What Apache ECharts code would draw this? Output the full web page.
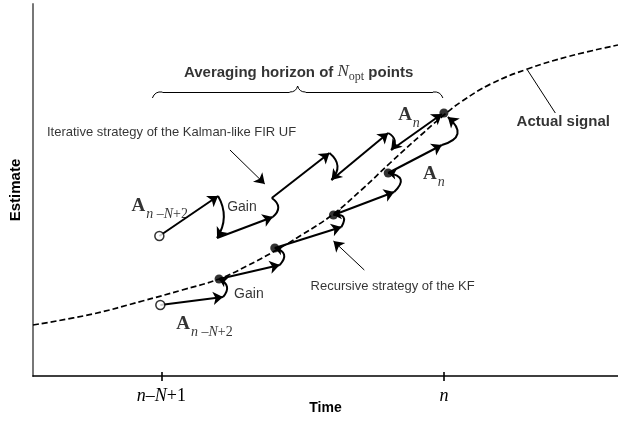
<!DOCTYPE html>
<html>
<head>
<meta charset="utf-8">
<script src="https://cdn.jsdelivr.net/npm/echarts@6/dist/echarts.min.js"></script>
<style>html,body{margin:0;padding:0;background:#fff;}#c{width:618px;height:430px;}</style>
</head>
<body>
<div id="c"></div>
<script>
// ---- data (Time / Estimate units of the schematic) ----
const tickValues = [129, 413];
const tickLabels = ['n–N+1', 'n'];

// actual signal (dashed)
const signalT = [0, 60, 110, 150, 187, 215, 243, 270, 302, 330, 360, 390, 413, 430, 460, 497, 540, 588];
const signalY = [51, 62, 75, 86, 97, 110, 125, 141, 162, 186, 214, 241, 261, 274, 292, 307, 320, 331];

// iterative strategy of the Kalman-like FIR UF (path vertices)
const firT = [127, 186, 185, 241, 240, 298, 300, 357, 360, 411];
const firY = [140, 180, 138, 159, 178, 223, 196, 243, 226, 262];

// recursive strategy of the KF (path vertices)
const kfT = [128, 191, 187, 248, 243, 310, 302, 363, 357, 411, 417];
const kfY = [71, 79, 97, 111, 128, 149, 161, 184, 203, 231, 259];

// KF estimates (filled dots) and initial values (open dots)
const estT = [187, 243, 302, 357, 413];
const estY = [97, 128, 161, 203, 263];
const initT = [127, 128];
const initY = [140, 71];

// brace over the averaging horizon
const braceT = [120, 130, 258, 266, 274, 402, 412];
const braceY = [278, 284, 284, 290, 284, 284, 278];

// pointer lines
const ptrFromT = [198, 333], ptrFromY = [226, 106];
const ptrToT = [233, 302], ptrToY = [192, 135];
const sigPtrT = [497, 525], sigPtrY = [306, 263];

// text annotations
const noteText = ['avg', 'iter', 'Gain', 'Gain', 'rec', 'A1', 'A2', 'An1', 'An2', 'Actual signal'];
const noteT = [267, 14, 210, 217, 279, 99, 144, 367, 392, 533];
const noteY = [303, 244, 169, 82, 90, 167, 49, 258, 199, 254];

// ---- styling ----
const SANS = 'Liberation Sans, Arial, sans-serif';
const SERIF = 'Liberation Serif, Times New Roman, serif';
const firBend = [0, 0.3, 0, -0.63, 0, 0.52, 0, 0.6, 0];
const kfBend = [0, -0.66, 0, -0.8, 0, -1.0, 0, -1.0, 0, -0.9];
const braceBend = [0.4, 0, -0.4, -0.4, 0, 0.4];

function segs(T, Y, bends, pick) {
  const out = [];
  for (let i = 0; i < T.length - 1; i++) {
    if (pick(bends[i], i)) {
      out.push({coords: [[T[i], Y[i]], [T[i + 1], Y[i + 1]]], lineStyle: {curveness: bends[i]}});
    }
  }
  return out;
}

const straightArrows = segs(firT, firY, firBend, b => b === 0).concat(segs(kfT, kfY, kfBend, b => b === 0));
const gainArrows = segs(firT, firY, firBend, b => b > 0).concat(segs(kfT, kfY, kfBend, (b, i) => i === kfT.length - 2));
const kfHooks = segs(kfT, kfY, kfBend, (b, i) => b !== 0 && i !== kfT.length - 2);
const firHooks = segs(firT, firY, firBend, b => b < 0);
const braceSegs = segs(braceT, braceY, braceBend, () => true);

const serifRich = {
  A: {fontFamily: SERIF, fontWeight: 'bold', fontSize: 19, color: '#000', verticalAlign: 'bottom', padding: [0, 1, 5, 0]},
  si: {fontFamily: SERIF, fontStyle: 'italic', fontSize: 14, color: '#000', verticalAlign: 'bottom'},
  sr: {fontFamily: SERIF, fontSize: 14, color: '#000', verticalAlign: 'bottom'},
  b: {fontFamily: SANS, fontWeight: 'bold', fontSize: 15, color: '#000', verticalAlign: 'bottom', padding: [0, 0, 3, 0]},
  N: {fontFamily: SERIF, fontStyle: 'italic', fontSize: 17, color: '#000', verticalAlign: 'bottom', padding: [0, 0, 3, 0]},
  o: {fontFamily: SERIF, fontSize: 12, color: '#000', verticalAlign: 'bottom'}
};
const noteFmt = {
  'avg': {t: '{b|Averaging horizon of }{N|N}{o|opt}{b| points}', align: 'center'},
  'iter': {t: 'Iterative strategy of the Kalman-like FIR UF', align: 'left', size: 13},
  'Gain': {t: 'Gain', align: 'center', size: 14},
  'rec': {t: 'Recursive strategy of the KF', align: 'left', size: 13},
  'A1': {t: '{A|A}{si|n}{sr| –}{si|N}{sr|+2}', align: 'left'},
  'A2': {t: '{A|A}{si|n}{sr| –}{si|N}{sr|+2}', align: 'left'},
  'An1': {t: '{A|A}{si|n}', align: 'left'},
  'An2': {t: '{A|A}{si|n}', align: 'left'},
  'Actual signal': {t: 'Actual signal', align: 'center', size: 15, bold: true}
};
const notes = noteText.map((k, i) => {
  const f = noteFmt[k];
  return {
    value: [noteT[i], noteY[i]],
    label: {
      show: true, position: [0, 0], formatter: f.t, align: f.align, verticalAlign: 'middle',
      fontFamily: SANS, fontSize: f.size || 14, fontWeight: f.bold ? 'bold' : 'normal', color: '#000',
      rich: serifRich
    }
  };
});

const chart = echarts.init(document.getElementById('c'), null, {renderer: 'canvas'});
chart.setOption({
  animation: false,
  backgroundColor: '#fff',
  grid: {left: 30, right: 0, top: 4, bottom: 54},
  xAxis: [{
    type: 'value', min: 0, max: 588,
    name: 'Time', nameLocation: 'middle', nameGap: 25, nameMoveOverlap: false,
    nameTextStyle: {fontFamily: SANS, fontWeight: 'bold', fontSize: 14, color: '#000'},
    axisLine: {show: true, onZero: false, lineStyle: {color: '#000', width: 1.6}},
    axisTick: {show: true, customValues: tickValues, length: 5, lineStyle: {color: '#000', width: 1.6}},
    axisLabel: {
      show: true, customValues: tickValues, margin: 11,
      formatter: v => v === tickValues[0] ? '{i|n}{r|–}{i|N}{r|+1}' : '{i|n}',
      rich: {
        i: {fontFamily: SERIF, fontStyle: 'italic', fontSize: 18, color: '#000'},
        r: {fontFamily: SERIF, fontSize: 18, color: '#000'}
      }
    },
    splitLine: {show: false}
  }, {
    type: 'value', min: 0, max: 588, position: 'bottom', offset: 0,
    axisLine: {show: false},
    axisTick: {show: true, inside: true, customValues: tickValues, length: 4, lineStyle: {color: '#000', width: 1.6}},
    axisLabel: {show: false}, splitLine: {show: false}
  }],
  yAxis: {
    type: 'value', min: 0, max: 372,
    name: 'Estimate', nameLocation: 'middle', nameGap: 10, nameRotate: 90, nameMoveOverlap: false,
    nameTextStyle: {fontFamily: SANS, fontWeight: 'bold', fontSize: 15, color: '#000'},
    axisLine: {show: true, onZero: false, lineStyle: {color: '#777', width: 2}},
    axisTick: {show: false}, axisLabel: {show: false}, splitLine: {show: false}
  },
  series: [
    {
      type: 'line', data: signalT.map((t, i) => [t, signalY[i]]), smooth: 0.4, showSymbol: false,
      lineStyle: {color: '#000', width: 1.7, type: [6, 3]}, z: 1
    },
    {
      type: 'lines', coordinateSystem: 'cartesian2d', data: straightArrows,
      symbol: ['none', 'arrow'], symbolSize: [7, 10],
      lineStyle: {color: '#000', width: 2, opacity: 1}, z: 3
    },
    {
      type: 'lines', coordinateSystem: 'cartesian2d', data: gainArrows,
      symbol: ['none', 'arrow'], symbolSize: [7, 10],
      lineStyle: {color: '#000', width: 2, opacity: 1}, z: 3
    },
    {
      type: 'lines', coordinateSystem: 'cartesian2d', data: kfHooks,
      symbol: ['none', 'arrow'], symbolSize: [6, 8],
      lineStyle: {color: '#000', width: 2, opacity: 1}, z: 3
    },
    {
      type: 'lines', coordinateSystem: 'cartesian2d', data: firHooks,
      symbol: ['none', 'none'],
      lineStyle: {color: '#000', width: 2, opacity: 1}, z: 3
    },
    {
      type: 'lines', coordinateSystem: 'cartesian2d',
      data: ptrFromT.map((t, i) => ({coords: [[t, ptrFromY[i]], [ptrToT[i], ptrToY[i]]]})),
      symbol: ['none', 'arrow'], symbolSize: [7, 10],
      lineStyle: {color: '#000', width: 1, opacity: 1}, z: 3
    },
    {
      type: 'lines', coordinateSystem: 'cartesian2d',
      data: [{coords: [[sigPtrT[0], sigPtrY[0]], [sigPtrT[1], sigPtrY[1]]]}].concat(braceSegs),
      symbol: ['none', 'none'],
      lineStyle: {color: '#000', width: 1, opacity: 1}, z: 3
    },
    {
      type: 'scatter', data: estT.map((t, i) => [t, estY[i]]), symbolSize: 9,
      itemStyle: {color: '#000'}, z: 5
    },
    {
      type: 'scatter', data: initT.map((t, i) => [t, initY[i]]), symbolSize: 9,
      itemStyle: {color: '#fff', borderColor: '#000', borderWidth: 1.5}, z: 5
    },
    {
      type: 'scatter', data: notes, symbolSize: 0, silent: true, z: 6
    }
  ]
});
</script>
</body>
</html>
